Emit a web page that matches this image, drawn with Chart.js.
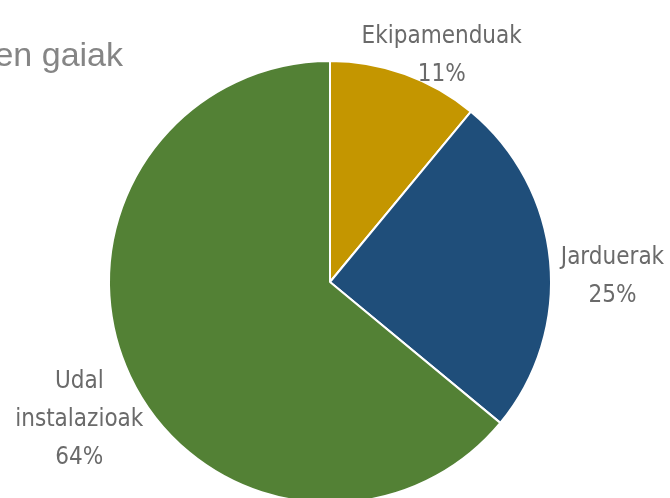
<!DOCTYPE html>
<html>
<head>
<meta charset="utf-8">
<script src="https://cdn.jsdelivr.net/npm/chart.js@4"></script>
<style>
  html, body { margin: 0; padding: 0; background: #fff; overflow: hidden; }
  #wrap { position: absolute; left: 0; top: 0; width: 670px; height: 520px; }
</style>
</head>
<body>
<div id="wrap"><canvas id="pieChart" width="670" height="520"></canvas></div>
<script>
const titleText = 'men gaiak';
const categories = ['Ekipamenduak', 'Jarduerak', ['Udal', 'instalazioak']];
const shares = [11, 25, 64];
const sliceColors = ['#C49600', '#1F4E7A', '#538135'];

const labelFont = '24px "DejaVu Sans Condensed", "DejaVu Sans", sans-serif';
const lineGap = 38;

// title sits cut at the left edge, like the crop it came from
const titlePlugin = {
  id: 'cutTitle',
  afterDraw(chart) {
    const ctx = chart.ctx;
    ctx.save();
    ctx.font = '34px "Liberation Sans Narrow", "Liberation Sans", sans-serif';
    ctx.fillStyle = '#858585';
    ctx.textBaseline = 'alphabetic';
    ctx.textAlign = 'right';
    ctx.fillText(titleText, 123, 66);
    ctx.restore();
  }
};

// outside labels: category + percent, pushed out along the mid angle
const outsideLabels = {
  id: 'outsideLabels',
  afterDatasetsDraw(chart) {
    const ctx = chart.ctx;
    const meta = chart.getDatasetMeta(0);
    const total = shares.reduce((a, b) => a + b, 0);
    ctx.save();
    ctx.font = labelFont;
    ctx.fillStyle = '#6a6a6a';
    ctx.textAlign = 'center';
    ctx.textBaseline = 'middle';
    meta.data.forEach((arc, i) => {
      const p = arc.getProps(['x', 'y', 'startAngle', 'endAngle', 'outerRadius'], true);
      const mid = (p.startAngle + p.endAngle) / 2;
      const dx = Math.cos(mid), dy = Math.sin(mid);
      const name = categories[i];
      const lines = (Array.isArray(name) ? name : [name]).concat(Math.round(shares[i] / total * 100) + '%');
      const w = Math.max(...lines.map(l => ctx.measureText(l).width));
      const h = lines.length * lineGap;
      const cx = p.x + dx * (p.outerRadius + 2) + dx * w / 2 + 9;
      const cy = p.y + dy * (p.outerRadius + 2) + dy * h / 2 + 19;
      lines.forEach((l, k) => {
        ctx.fillText(l, cx, cy - h / 2 + lineGap / 2 + k * lineGap);
      });
    });
    ctx.restore();
  }
};

new Chart(document.getElementById('pieChart'), {
  type: 'pie',
  data: {
    labels: categories,
    datasets: [{
      data: shares,
      backgroundColor: sliceColors,
      borderColor: '#ffffff',
      borderWidth: 2
    }]
  },
  options: {
    responsive: false,
    animation: false,
    layout: { padding: { top: 60, bottom: 16, left: 0, right: 10 } },
    plugins: {
      legend: { display: false },
      tooltip: { enabled: false }
    }
  },
  plugins: [outsideLabels, titlePlugin]
});
</script>
</body>
</html>
